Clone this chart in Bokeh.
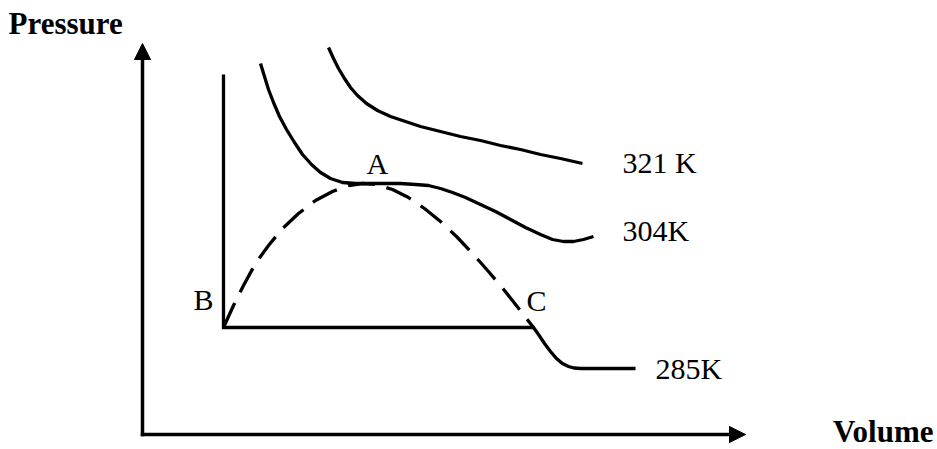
from bokeh.plotting import figure
from bokeh.models import Range1d, Arrow, NormalHead, ColumnDataSource
from bokeh.core.properties import value
from bokeh.embed import file_html
from bokeh.resources import INLINE

# --- data (schematic, in picture units: x to the right, y downward) ---
iso_321_x = [328, 333, 338, 344, 350, 357, 366, 377, 390, 405, 420, 440, 460, 480, 500, 520, 540, 560, 582]
iso_321_y = [47, 58, 68, 78, 87, 95, 103, 110, 116, 121, 126, 131, 136, 140, 145, 149, 154, 158, 163]

iso_304_x = [260, 264, 268, 273, 279, 286, 294, 302, 311, 320, 330, 342, 355, 370, 385, 400, 415, 428,
             440, 452, 465, 480, 495, 510, 525, 540, 552, 563, 573, 583, 593]
iso_304_y = [63, 76, 89, 102, 116, 129, 142, 154, 164, 172, 178, 182, 183, 183, 183, 183, 184, 185,
             188, 192, 197, 204, 211, 219, 227, 234, 239, 241, 241, 239, 236]

iso_285_x = [223, 223, 533, 538, 544, 550, 556, 562, 568, 574, 580, 587, 595, 605, 620, 635]
iso_285_y = [74, 327, 327, 334, 343, 351, 358, 363, 366, 367.5, 368, 368, 368, 368, 368, 368]

dome_x = [223, 233, 243, 255, 268, 282, 298, 315, 332, 348, 362, 376, 392, 408, 424, 440, 456, 472, 488, 504, 519, 533]
dome_y = [327, 305, 285, 263, 245, 228, 213, 200, 191, 185, 183, 184, 189, 197, 208, 221, 236, 253, 271, 290, 309, 327]

label_text = ["A", "B", "C", "321 K", "304K", "285K"]
label_x = [366, 193, 526, 622, 622, 655]
label_y = [173, 309, 310, 172, 240, 378]

x_title = "Volume"
y_title = "Pressure"

# --- figure: 1 data unit = 1 screen pixel ---
W, H = 937, 449
p = figure(width=W, height=H, output_backend="svg", toolbar_location=None,
           x_axis_location=None, y_axis_location=None,
           x_range=Range1d(0, W), y_range=Range1d(H, 0),
           min_border=0, outline_line_color=None, background_fill_color="white")
p.grid.visible = False

LW = 3.3

# axes as arrows
p.add_layout(Arrow(end=NormalHead(size=16, fill_color="black", line_color="black", line_width=1),
                   x_start=142, y_start=435.75, x_end=142, y_end=43,
                   line_width=3.5, line_color="black"))
p.add_layout(Arrow(end=NormalHead(size=16, fill_color="black", line_color="black", line_width=1),
                   x_start=140.25, y_start=434, x_end=745, y_end=434,
                   line_width=3.5, line_color="black"))

# isotherms
p.line(iso_321_x, iso_321_y, line_width=LW, line_color="black", line_join="round")
p.line(iso_304_x, iso_304_y, line_width=LW, line_color="black", line_join="round")
p.line(iso_285_x, iso_285_y, line_width=LW, line_color="black", line_join="miter")

# coexistence dome (dashed)
p.line(dome_x, dome_y, line_width=LW, line_color="black", line_dash="27 12", line_join="round")

# labels
src = ColumnDataSource(dict(x=label_x, y=label_y, t=label_text))
p.text(x="x", y="y", text="t", source=src, text_font=value("Liberation Serif"),
       text_font_size=value("30px"), text_baseline="alphabetic", text_align="left",
       text_color="black", y_offset=-10)

p.text(x=[8], y=[33], text=[y_title], text_font=value("Liberation Serif"),
       text_font_size=value("31px"), text_font_style="bold", text_baseline="alphabetic",
       text_align="left", text_color="black", y_offset=-10)
p.text(x=[933], y=[446], text=[x_title], text_font=value("Liberation Serif"),
       text_font_size=value("31px"), text_font_style="bold", text_baseline="alphabetic",
       text_align="right", text_color="black", y_offset=-15)

open("out.html", "w").write(file_html(p, INLINE))
